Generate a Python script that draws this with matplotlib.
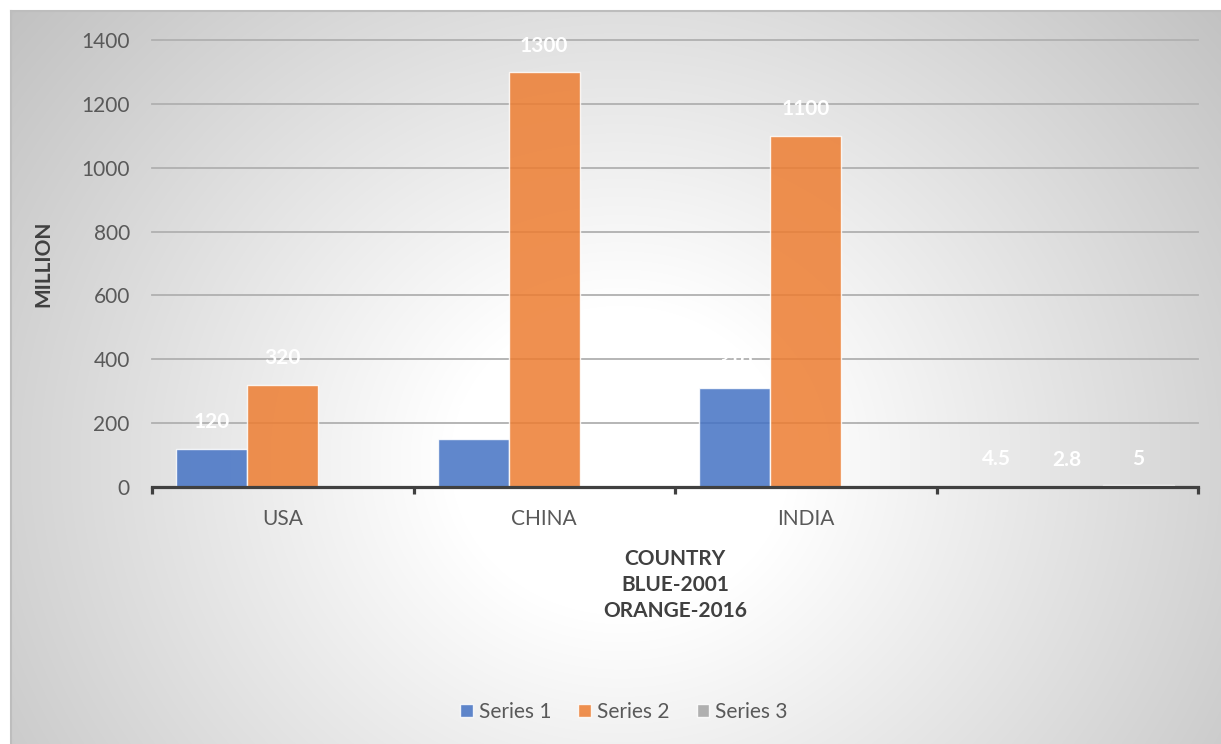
import numpy as np
import matplotlib
matplotlib.use("Agg")
import matplotlib.pyplot as plt

# population data, millions
countries = ["USA", "CHINA", "INDIA", ""]
series_1 = [120, 150, 310, 4.5]      # 2001
series_2 = [320, 1300, 1100, 2.8]    # 2016
series_3 = [np.nan, np.nan, np.nan, 5]
series_names = ["Series 1", "Series 2", "Series 3"]
y_ticks = [0, 200, 400, 600, 800, 1000, 1200, 1400]

plt.rcParams["font.family"] = ["Lato", "DejaVu Sans"]

W, H = 1221, 744
fig = plt.figure(figsize=(W / 100, H / 100), dpi=100, facecolor="white")

# radial grey-to-white background of the chart area
bg = fig.add_axes([10 / W, 0, (W - 10) / W, (H - 10) / H], zorder=-10)
xx, yy = np.meshgrid(np.arange(10, W), np.arange(10, H))
d = np.hypot(xx - 620, (yy - 460) * 1.1)
val = 255 - 0.1 * np.clip(d - 170, 0, None)
val = np.clip(val, 190, 255) / 255
bg.imshow(np.dstack([val, val, val]), aspect="auto", interpolation="bilinear")
bg.set_axis_off()
fig.add_artist(plt.Line2D([10.5 / W, 10.5 / W], [0, (H - 10.5) / H], color="#bdbdbd", lw=1.5))
fig.add_artist(plt.Line2D([10.5 / W, 1], [(H - 10.5) / H, (H - 10.5) / H], color="#bdbdbd", lw=1.5))

ax = fig.add_axes([152 / W, (H - 487) / H, (1198 - 152) / W, (487 - 40) / H])
ax.set_facecolor("none")

colors = ["#4472C4", "#ED7D31", "#A5A5A5"]
x = np.arange(len(countries))
w = 0.272
for i, (vals, name) in enumerate(zip([series_1, series_2, series_3], series_names)):
    ax.bar(x + (i - 1) * w, vals, w, color=colors[i], alpha=0.85,
           edgecolor=(1, 1, 1, 0.6), linewidth=1, label=name, zorder=3)
    for xi, v in zip(x + (i - 1) * w, vals):
        if np.isnan(v):
            continue
        ax.annotate(f"{v:g}", (xi, v), xytext=(0, 19), textcoords="offset points",
                    ha="center", va="center", color="white", fontsize=15,
                    fontweight="bold", zorder=4)

ax.set_xlim(-0.5, 3.5)
ax.set_ylim(0, 1400)
ax.set_yticks(y_ticks)
ax.yaxis.grid(True, color="#b0b0b0", lw=1.3, zorder=1)
for gl in ax.get_ygridlines():
    gl.set_clip_on(False)
ax.set_axisbelow(True)

for s in ["top", "right", "left"]:
    ax.spines[s].set_visible(False)
ax.spines["bottom"].set_color("#404040")
ax.spines["bottom"].set_linewidth(2.3)
ax.spines["bottom"].set_zorder(5)

ax.set_xticks(x)
ax.set_xticklabels(countries)
ax.set_xticks(np.arange(-0.5, 4.0, 1.0), minor=True)
ax.tick_params(axis="x", which="major", length=0, pad=16, labelsize=15, labelcolor="#595959")
ax.tick_params(axis="x", which="minor", length=5, width=2.3, color="#404040", direction="out")
ax.tick_params(axis="y", length=0, pad=16, labelsize=15, labelcolor="#595959")

ax.set_ylabel("MILLION", fontsize=15, fontweight="bold", color="#404040", labelpad=20)
ax.set_xlabel("COUNTRY\nBLUE-2001\nORANGE-2016", fontsize=15, fontweight="bold",
              color="#404040", labelpad=14, linespacing=1.4)

leg = ax.legend(loc="center", bbox_to_anchor=(624 / W, (H - 712) / H),
                bbox_transform=fig.transFigure, ncol=3, frameon=False,
                fontsize=15, handlelength=0.6, handleheight=0.6, handletextpad=0.3,
                columnspacing=1.3)
for t in leg.get_texts():
    t.set_color("#595959")

fig.savefig("out.png", dpi=100, facecolor="white")
